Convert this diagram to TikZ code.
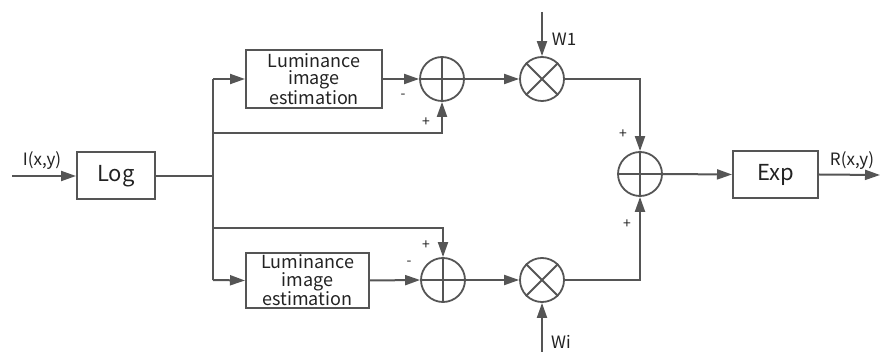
\documentclass[tikz,border=0pt]{standalone}
\usepackage{fontspec}
\setmainfont{Noto Sans CJK SC}
\usetikzlibrary{arrows.meta,calc}
\definecolor{ln}{HTML}{555555}
\definecolor{tx}{HTML}{222222}
\tikzset{
  blk/.style={draw=ln,line width=2pt,rectangle,inner sep=0pt,text=tx,align=center},
  junc/.style={draw=ln,line width=1.8pt,circle,minimum size=44pt,inner sep=0pt},
  wire/.style={draw=ln,line width=2pt},
  arr/.style={wire,-{Triangle[length=15pt,width=10pt]}},
  lab/.style={text=tx,font=\fontsize{17}{19}\selectfont,inner sep=0pt},
  sgn/.style={text=tx,font=\fontsize{14}{16}\selectfont,inner sep=0pt}
}
\begin{document}
\begin{tikzpicture}[x=1pt,y=-1pt]
\useasboundingbox (0,0) rectangle (880,352);
% blocks
\node[blk,minimum width=78pt,minimum height=47pt,font=\fontsize{22}{24}\selectfont] (log) at (116,176) {Log};
\node[blk,minimum width=136pt,minimum height=58pt,font=\fontsize{18}{17.5}\selectfont] (lum1) at (314,79) {Luminance\\image\\estimation};
\node[blk,minimum width=123pt,minimum height=55pt,font=\fontsize{18}{17.5}\selectfont] (lum2) at (307.5,280.5) {Luminance\\image\\estimation};
\node[blk,minimum width=85pt,minimum height=47pt,font=\fontsize{22}{24}\selectfont] (exp) at (775.5,174.5) {Exp};
% junction circles
\node[junc] (s1) at (442,79) {};
\node[junc] (s2) at (443,280) {};
\node[junc] (s3) at (640,174) {};
\node[junc] (m1) at (542,79) {};
\node[junc] (m2) at (542,280) {};
\foreach \n in {s1,s2,s3}{
  \draw[ln,line width=1.8pt] (\n.north) -- (\n.south) (\n.west) -- (\n.east);
}
\foreach \n in {m1,m2}{
  \draw[ln,line width=1.8pt] (\n.45) -- (\n.225) (\n.135) -- (\n.315);
}
% coordinates
\coordinate (in) at (12,176);
\coordinate (j0) at (213,176);
\coordinate (jt) at (213,79);
\coordinate (jb) at (213,280);
\coordinate (j1) at (213,133);
\coordinate (j2) at (213,228);
\coordinate (w1) at (542,12);
\coordinate (wi) at (542,352);
\coordinate (out) at (880,175);
% wires
\draw[arr] (in) -- (log.west);
\draw[wire] (log.east) -- (j0);
\draw[wire] (jt) -- (jb);
\draw[arr] (jt) -- (lum1.west);
\draw[arr] (jb) -- (lum2.west);
\draw[arr] (lum1.east) -- (s1.west);
\draw[arr] (lum2.east) -- (s2.west);
\draw[arr] (j1) -| (s1.south);
\draw[arr] (j2) -| (s2.north);
\draw[arr] (s1.east) -- (m1.west);
\draw[arr] (s2.east) -- (m2.west);
\draw[arr] (w1) -- (m1.north);
\draw[arr] (wi) -- (m2.south);
\draw[arr] (m1.east) -| (s3.north);
\draw[arr] (m2.east) -| (s3.south);
\draw[arr] (s3.east) -- (exp.west);
\draw[arr] (exp.east) -- (out);
% labels
\node[lab] (lin) at (42,161) {I(x,y)};
\node[lab] (lout) at (852,161) {R(x,y)};
\node[lab] (lw1) at (564,39) {W1};
\node[lab] (lwi) at (561,342) {Wi};
\node[sgn] (p1) at (426,122) {+};
\node[sgn] (n1) at (403,96) {-};
\node[sgn] (p2) at (426,245) {+};
\node[sgn] (n2) at (409,263) {-};
\node[sgn] (p3) at (623,134) {+};
\node[sgn] (p4) at (627,224) {+};
\end{tikzpicture}
\end{document}
